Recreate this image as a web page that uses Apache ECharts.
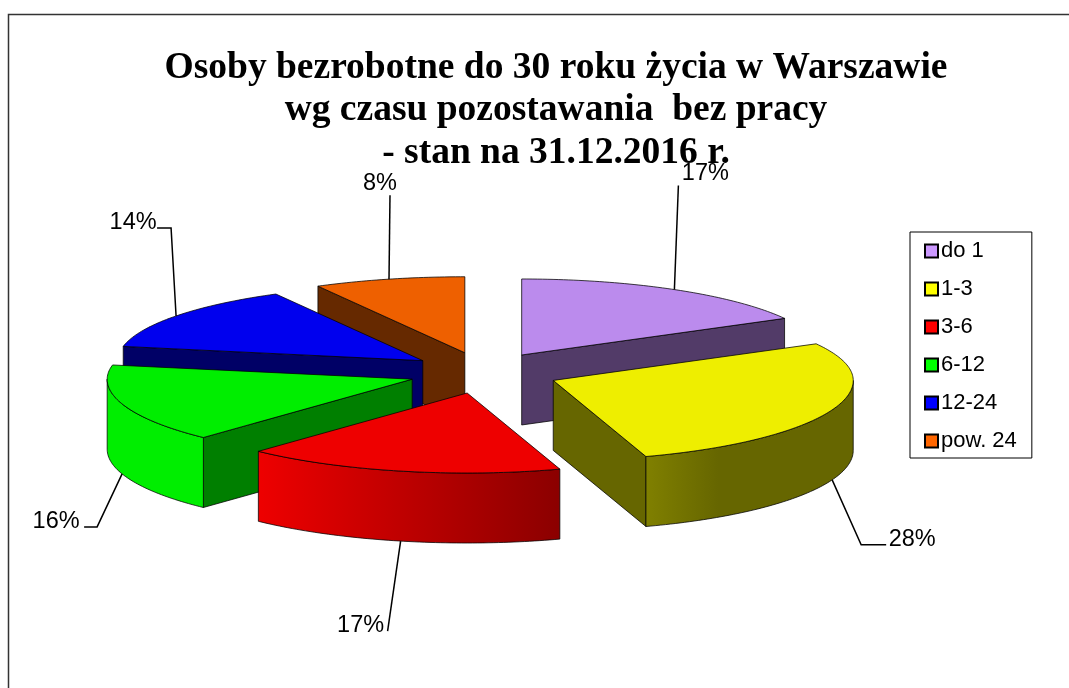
<!DOCTYPE html>
<html>
<head>
<meta charset="utf-8">
<style>html,body{margin:0;padding:0;background:#fff}#chart{width:1069px;height:688px}</style>
<script src="https://cdn.jsdelivr.net/npm/echarts@6/dist/echarts.min.js"></script>
</head>
<body>
<div id="chart"></div>
<script>
// ---- data ----
const titleLines = ['Osoby bezrobotne do 30 roku życia w Warszawie', 'wg czasu pozostawania  bez pracy', '- stan na 31.12.2016 r.'];
const categories = ['do 1', '1-3', '3-6', '6-12', '12-24', 'pow. 24'];
const shares = [17, 28, 17, 16, 14, 8];

// ---- colours ----
const legendColors = ['#CC99FF', '#FFFF00', '#FF0000', '#00FF00', '#0000FF', '#FF6600'];
const topColors = ['#BB8BED', '#EEEE00', '#EE0000', '#00EE00', '#0000EE', '#EE6000'];
const wallColors = ['#523B68', '#666600', '#8B0000', '#007F00', '#000066', '#662900'];
const rimStops = [
  ['#523B68', '#523B68'], ['#808000', '#666600'], ['#EE0000', '#8B0000'],
  ['#00EE00', '#00EE00'], ['#000066', '#000066'], ['#662900', '#662900']
];

// ---- layout of the tilted pie ----
const pieCx = 483.5, pieCy = 372.8, depth = 70;
const radiusRight = 300, radiusLeft = 305, radiusBack = 76, radiusFront = 80;
const explodeX = 75, explodeY = 20.7;
const leaderBends = [
  [[4, -104]], [[29, 65], [54, 65]], [[-13, 90]],
  [[-25, 53], [-38, 53]], [[-5, -88], [-19, -88]], [[1, -84]]
];
const labelOffsets = [[31, -116], [80, 60], [-40, 84], [-66, 48], [-43, -93], [-9, -96]];
const EDGE = 'rgba(0,0,0,0.75)';

const total = shares.reduce((a, b) => a + b, 0);
const starts = [];
shares.reduce((acc, v, i) => { starts[i] = acc; return acc + v / total * 360; }, 0);
const rad = d => d * Math.PI / 180;
const midOf = i => starts[i] + shares[i] / total * 180;
const depthKey = i => -Math.cos(rad(midOf(i)));
const rankOrder = categories.map((_, i) => i).sort((a, b) => depthKey(a) - depthKey(b));

function renderSlice(i, params, api) {
  const sweep = api.value(0) / total * 360;
  const a0 = starts[i], a1 = a0 + sweep, mid = a0 + sweep / 2;
  const ax = pieCx + explodeX * Math.sin(rad(mid));
  const ay = pieCy - explodeY * Math.cos(rad(mid));
  const rim = (t, dy) => {
    const s = Math.sin(rad(t)), c = Math.cos(rad(t));
    return [ax + (s < 0 ? radiusLeft : radiusRight) * s, ay - (c < 0 ? radiusFront : radiusBack) * c + (dy || 0)];
  };
  const poly = (points, fill) => ({
    type: 'polygon', shape: { points: points },
    style: { fill: fill, stroke: EDGE, lineWidth: 1, lineJoin: 'round' }
  });
  const children = [];
  const wall = t => poly([[ax, ay], rim(t), rim(t, depth), [ax, ay + depth]], wallColors[i]);
  // radial walls facing the viewer
  if (Math.sin(rad(a0)) < -1e-6) children.push(wall(a0));
  if (Math.sin(rad(a1)) > 1e-6) children.push(wall(a1));
  // outer curved wall on the front half
  const lo = Math.max(a0, 90), hi = Math.min(a1, 270);
  if (hi > lo) {
    const upper = [], lower = [];
    for (let t = lo; t < hi; t += 1) { upper.push(rim(t)); lower.unshift(rim(t, depth)); }
    upper.push(rim(hi)); lower.unshift(rim(hi, depth));
    // gradient runs from left to right on screen
    const fill = new echarts.graphic.LinearGradient(0, 0, 1, 0, [
      { offset: 0, color: rimStops[i][0] },
      { offset: i === 1 ? 0.35 : 1, color: rimStops[i][1] },
      { offset: 1, color: rimStops[i][1] }
    ]);
    children.push(poly(upper.concat(lower), fill));
  }
  // top face
  const top = [[ax, ay]];
  for (let t = a0; t < a1; t += 1) top.push(rim(t));
  top.push(rim(a1));
  children.push(poly(top, topColors[i]));
  // leader line + label
  const anchor = rim(mid, mid > 90 && mid < 270 ? depth : 0);
  const line = [anchor].concat(leaderBends[i].map(o => [anchor[0] + o[0], anchor[1] + o[1]]));
  children.push({ type: 'polyline', shape: { points: line }, style: { fill: 'none', stroke: '#000', lineWidth: 1.5 } });
  children.push({
    type: 'text',
    style: {
      x: anchor[0] + labelOffsets[i][0], y: anchor[1] + labelOffsets[i][1],
      text: Math.round(api.value(0) / total * 100) + '%',
      align: 'center', verticalAlign: 'middle',
      fontFamily: 'Liberation Sans', fontSize: 23.5, fill: '#000'
    }
  });
  return { type: 'group', children: children };
}

const chart = echarts.init(document.getElementById('chart'), null, { renderer: 'canvas' });
chart.setOption({
  animation: false,
  backgroundColor: '#fff',
  title: {
    text: titleLines.join('\n'),
    left: 551, top: 42, textAlign: 'center',
    textStyle: { fontFamily: 'Liberation Serif', fontWeight: 'bold', fontSize: 37.5, lineHeight: 42.5, color: '#000' }
  },
  legend: {
    data: categories, orient: 'vertical', left: 910, top: 232, padding: [8, 15, 6, 14],
    icon: 'rect', itemWidth: 13, itemHeight: 13, itemGap: 16,
    borderColor: '#000', borderWidth: 1, borderRadius: 0,
    itemStyle: { borderColor: '#000', borderWidth: 2 },
    textStyle: { fontFamily: 'Liberation Sans', fontSize: 22, color: '#000', padding: [0, 0, 0, -2] },
    selectedMode: false
  },
  graphic: [{
    type: 'polyline', shape: { points: [[8.5, 688], [8.5, 14.5], [1069, 14.5]] },
    style: { fill: 'none', stroke: '#333', lineWidth: 1.5 }, silent: true
  }],
  series: categories.map((name, i) => ({
    type: 'custom', name: name, coordinateSystem: 'none',
    z: 2 + rankOrder.indexOf(i), silent: true,
    itemStyle: { color: legendColors[i] },
    data: [[shares[i]]],
    renderItem: (params, api) => renderSlice(i, params, api)
  }))
});
</script>
</body>
</html>
